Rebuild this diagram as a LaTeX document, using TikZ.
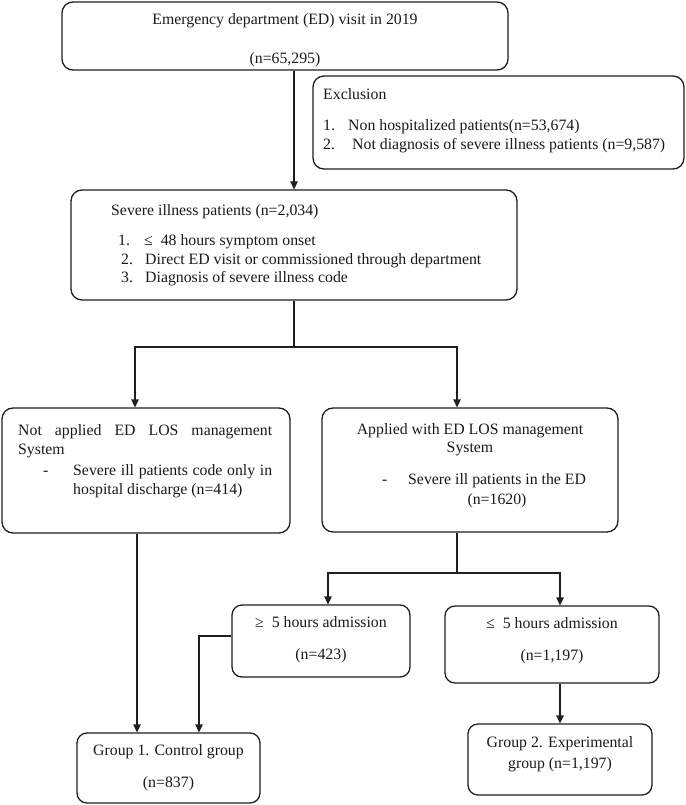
\documentclass[tikz,border=0pt]{standalone}
\usepackage{fontspec}
\setmainfont{Liberation Serif}
\usetikzlibrary{arrows.meta}
\begin{document}
\begin{tikzpicture}[x=1pt,y=-1pt,
  box/.style={draw=black!88, line width=1.3pt, rounded corners=11pt, inner sep=0pt},
  txt/.style={inner sep=0pt, font=\fontsize{15.8pt}{19pt}\selectfont, text=black!90},
  tl/.style={txt, anchor=mid west},
  tc/.style={txt, anchor=mid},
  conn/.style={draw=black!88, line width=1.3pt},
  arr/.style={conn, -{Triangle[length=8pt,width=7.5pt]}}
]
\useasboundingbox (0,0) rectangle (685,805);

% boxes
\node[box, minimum width=446pt, minimum height=68pt] (b1) at (285,36) {};
\node[box, minimum width=371pt, minimum height=93pt] (excl) at (498.5,122.5) {};
\node[box, minimum width=446pt, minimum height=110pt] (sev) at (294,245) {};
\node[box, minimum width=288pt, minimum height=125pt] (na) at (146,470.5) {};
\node[box, minimum width=296pt, minimum height=124pt] (ap) at (470,470) {};
\node[box, minimum width=178pt, minimum height=72pt, rounded corners=10pt] (ge5) at (321,641) {};
\node[box, minimum width=214pt, minimum height=77pt, rounded corners=10pt] (le5) at (552,644.5) {};
\node[box, minimum width=183pt, minimum height=70pt, rounded corners=10pt] (g1) at (168.5,768) {};
\node[box, minimum width=184pt, minimum height=71pt, rounded corners=10pt] (g2) at (560,759.5) {};

% texts
\node[tc] (t1a) at (285,22) {Emergency department (ED) visit in 2019};
\node[tc] (t1b) at (285,61) {(n=65,295)};

\node[tl] (ex0) at (323,97) {Exclusion};
\node[tl] (ex1n) at (323,128) {1.};
\node[tl] (ex1) at (348,128) {Non hospitalized patients(n=53,674)};
\node[tl] (ex2n) at (323,147) {2.};
\node[tl] (ex2) at (352,147) {Not diagnosis of severe illness patients (n=9,587)};

\node[tl] (sv0) at (111,213) {Severe illness patients (n=2,034)};
\node[tl] (sv1n) at (118,243) {1.};
\node[tl] (sv1) at (144,243) {≤\ \ 48 hours symptom onset};
\node[tl] (sv2n) at (121,262) {2.};
\node[tl] (sv2) at (145,262) {Direct ED visit or commissioned through department};
\node[tl] (sv3n) at (121,280) {3.};
\node[tl] (sv3) at (145,280) {Diagnosis of severe illness code};

\node[tl] (na1) at (18,433) {\makebox[254pt][s]{Not applied ED LOS management}};
\node[tl] (na2) at (18,452) {System};
\node[tl] (na3d) at (43,473) {-};
\node[tl] (na3) at (73,473) {\makebox[199pt][s]{Severe ill patients code only in}};
\node[tl] (na4) at (73,492) {hospital discharge (n=414)};

\node[tc] (ap1) at (470,432) {Applied with ED LOS management};
\node[tc] (ap2) at (470,450) {System};
\node[tl] (ap3d) at (382,482) {-};
\node[tl] (ap3) at (408,482) {Severe ill patients in the ED};
\node[tc] (ap4) at (497,502) {(n=1620)};

\node[tc] (ge1) at (321,625) {≥\ \ 5 hours admission};
\node[tc] (ge2) at (321,657) {(n=423)};
\node[tc] (le1) at (552,626) {≤\ \ 5 hours admission};
\node[tc] (le2) at (552,658) {(n=1,197)};

\node[tc] (g1a) at (168.5,753) {Group 1. Control group};
\node[tc] (g1b) at (168.5,785) {(n=837)};
\node[tc] (g2a) at (560,745) {Group 2. Experimental};
\node[tc] (g2b) at (560,766) {group (n=1,197)};

% connectors
\draw[arr] (sev.north |- b1.south) -- (sev.north);

\coordinate (j1) at (294,347);
\draw[conn] (sev.south) -- (j1);
\draw[arr] (j1) -| ([xshift=-11pt]na.north);
\draw[arr] (j1) -| ([xshift=-13pt]ap.north);

\coordinate (j2) at (457,573);
\draw[conn] ([xshift=-13pt]ap.south) -- (j2);
\draw[arr] (j2) -| ([xshift=7pt]ge5.north);
\draw[arr] (j2) -| ([xshift=8pt]le5.north);

\draw[arr] ([xshift=-9pt]na.south) -- ([xshift=-9pt]na.south |- g1.north);
\draw[arr] ([yshift=5pt]ge5.west) -| ([xshift=30.5pt]g1.north);
\draw[arr] (g2.north |- le5.south) -- (g2.north);
\end{tikzpicture}
\end{document}
